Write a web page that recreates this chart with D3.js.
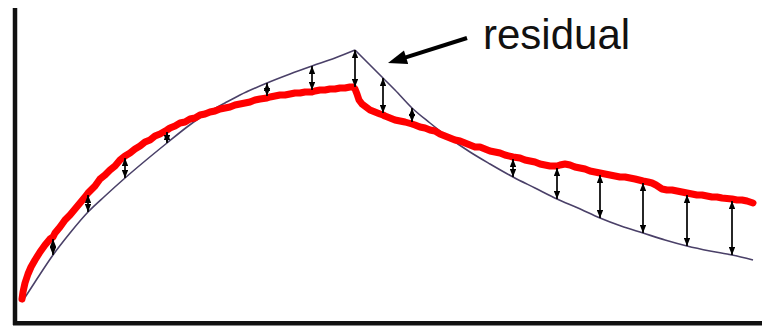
<!DOCTYPE html>
<html>
<head>
<meta charset="utf-8">
<script src="https://cdn.jsdelivr.net/npm/d3@7"></script>
<style>
  html, body { margin: 0; padding: 0; background: #fff; }
  svg { display: block; }
</style>
</head>
<body>
<svg id="chart" width="769" height="333"></svg>
<script>
// Sensorgram: measured response (red) vs. fitted 1:1 model (thin line),
// with residual arrows between the two.

// Measured response — time (s) and response (RU)
const dataTime = [0,1,3,6,9,13,18,23,28,31,33,38,43,48,53,58,63,66,68,73,78,83,88,93,98,103,108,113,118,123,128,133,138,145,148,153,158,163,168,173,178,183,188,193,198,203,208,213,218,223,228,233,238,245,248,253,258,263,268,273,278,283,290,293,298,303,308,313,318,323,328,331,333,
  335,337,340,344,348,353,358,361,363,368,373,378,383,390,393,398,403,408,413,418,423,428,433,438,443,448,453,458,463,468,473,478,483,491,498,503,508,513,518,523,528,535,538,543,548,553,558,563,568,573,578,583,588,593,598,603,608,613,621,626,630,634,637,640,645,650,655,665,670,675,680,685,690,695,700,710,715,720,725,731];
const dataResp = [23,30,39,48,55,62,70,77,83,85,89,95,102,107,113,119,125,129,131,136,143,147,152,156,162,166,169,173,176,180,182,186,188,192,194,196,199,200,203,204,207,208,210,211,213,214,215,217,218,219,220,222,223,224,225,226,227,227,228,229,229,230,230,231,232,232,233,233,234,234,235,235,233,
  228,222,218,215,212,210,208,207,206,204,202,201,200,198,197,195,194,192,191,188,186,184,182,181,179,177,175,175,173,171,170,169,167,165,164,162,161,160,158,157,156,156,157,158,157,155,154,153,151,150,149,148,147,146,145,145,144,143,141,140,139,137,135,133,132,132,131,129,128,127,127,126,125,125,124,123,122,122,121,119];

// Fitted model — association phase
const fitAssocTime = [0,13,31,48,66,83,103,123,145,165,185,203,218,245,268,290,313,333];
const fitAssocResp = [20,40,67,89,110,126,144,161,179,195,209,219,227,239,248,256,264,272];

// Fitted model — dissociation phase
const fitDissocTime = [333,348,361,373,390,408,426,448,468,491,513,535,556,578,599,621,643,665,688,710,731];
const fitDissocResp = [272,257,244,232,214,199,185,170,158,145,134,123,114,104,96,89,82,76,71,67,62];

// Times at which residuals are marked
const residualTimes = [31,66,103,145,245,290,333,361,390,491,535,578,621,665,710];

// Annotation text
const annotationText = "residual";

const svg = d3.select("#chart");

const x = d3.scaleLinear().domain([0, 731]).range([22, 753]);
const y = d3.scaleLinear().domain([0, 300]).range([322, 22]);

const measured = dataTime.map((t, i) => ({ t, v: dataResp[i] }));
const fitAssoc = fitAssocTime.map((t, i) => ({ t, v: fitAssocResp[i] }));
const fitDissoc = fitDissocTime.map((t, i) => ({ t, v: fitDissocResp[i] }));

// Axes frame (bare lines, no ticks)
const axisColor = "#111";
svg.append("line")
  .attr("x1", x(-7)).attr("x2", x(-7))
  .attr("y1", y(314)).attr("y2", y(-3))
  .attr("stroke", axisColor).attr("stroke-width", 4.5);
svg.append("line")
  .attr("x1", x(-9)).attr("x2", x(740))
  .attr("y1", y(-1.2)).attr("y2", y(-1.2))
  .attr("stroke", axisColor).attr("stroke-width", 4.5);

// Fitted curve
const fitLine = d3.line().x(d => x(d.t)).y(d => y(d.v)).curve(d3.curveMonotoneX);
[fitAssoc, fitDissoc].forEach(seg => {
  svg.append("path")
    .attr("d", fitLine(seg))
    .attr("fill", "none")
    .attr("stroke", "#4a4068")
    .attr("stroke-width", 1.6);
});

// Measured response
const dataLine = d3.line().x(d => x(d.t)).y(d => y(d.v)).curve(d3.curveLinear);
svg.append("path")
  .attr("d", dataLine(measured))
  .attr("fill", "none")
  .attr("stroke", "#ff0000")
  .attr("stroke-width", 7)
  .attr("stroke-linejoin", "round")
  .attr("stroke-linecap", "round");

// Residual arrows
const defs = svg.append("defs");
defs.append("marker")
  .attr("id", "head")
  .attr("viewBox", "0 0 10 10")
  .attr("refX", 10).attr("refY", 5)
  .attr("markerUnits", "userSpaceOnUse")
  .attr("markerWidth", 8).attr("markerHeight", 6.5)
  .attr("preserveAspectRatio", "none")
  .attr("orient", "auto-start-reverse")
  .append("path")
  .attr("d", "M0,0 L10,5 L0,10 Z")
  .attr("fill", "#000");

const fitAll = fitAssoc.concat(fitDissoc);
const residuals = residualTimes.map(t => {
  const m = measured.find(d => d.t === t);
  const f = fitAll.find(d => d.t === t);
  return { t, data: m.v, fit: f.v };
});

svg.append("g").selectAll("line")
  .data(residuals)
  .join("line")
  .each(function(d) {
    const yd = y(d.data), yf = y(d.fit);
    // stop the tip at the edge of the thick measured line
    const off = yf > yd ? 2 : -2;
    const yA = yd + off;
    const top = Math.min(yA, yf), bottom = Math.max(yA, yf);
    d3.select(this)
      .attr("x1", x(d.t)).attr("x2", x(d.t))
      .attr("y1", top).attr("y2", bottom);
  })
  .attr("stroke", "#000")
  .attr("stroke-width", 1.7)
  .attr("marker-start", "url(#head)")
  .attr("marker-end", "url(#head)");

// Annotation: label with arrow pointing to the end of association
const tip = [x(366), y(259)];
const tail = [x(445), y(284)];
const dx = tip[0] - tail[0], dy = tip[1] - tail[1];
const len = Math.hypot(dx, dy);
const ux = dx / len, uy = dy / len;
const headLen = 19, headHalf = 7;
const base = [tip[0] - ux * headLen, tip[1] - uy * headLen];

svg.append("line")
  .attr("x1", tail[0]).attr("y1", tail[1])
  .attr("x2", base[0] + ux * 2).attr("y2", base[1] + uy * 2)
  .attr("stroke", "#000").attr("stroke-width", 4);
svg.append("path")
  .attr("d", `M${tip[0]},${tip[1]} L${base[0] - uy * headHalf},${base[1] + ux * headHalf} L${base[0] + uy * headHalf},${base[1] - ux * headHalf} Z`)
  .attr("fill", "#000");

svg.append("text")
  .attr("x", x(461)).attr("y", y(273))
  .attr("font-family", "'Liberation Sans', Arial, Helvetica, sans-serif")
  .attr("font-size", 42)
  .attr("fill", "#111")
  .text(annotationText);
</script>
</body>
</html>
